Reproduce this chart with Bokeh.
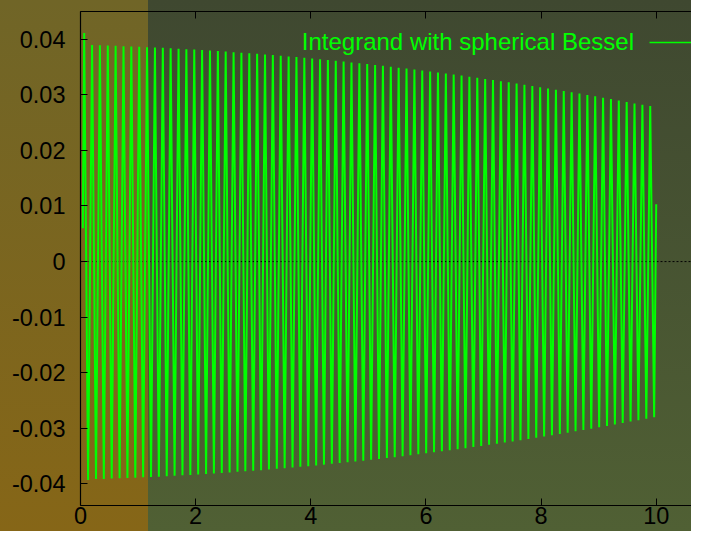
from bokeh.plotting import figure
from bokeh.models import (Range1d, LinearAxis, FixedTicker, Span, Label, Arrow)
from bokeh.embed import file_html
from bokeh.resources import INLINE

# ---- data ----
start_x, start_y = 0.040, 0.0060
end_x, end_y = 10.000, 0.0103

peak_x = [0.064, 0.201, 0.337, 0.474, 0.610, 0.747, 0.883, 1.020, 1.156, 1.293,
          1.430, 1.566, 1.703, 1.839, 1.976, 2.112, 2.249, 2.386, 2.522, 2.659,
          2.795, 2.932, 3.068, 3.205, 3.341, 3.478, 3.615, 3.751, 3.888, 4.024,
          4.161, 4.297, 4.434, 4.570, 4.707, 4.844, 4.980, 5.117, 5.253, 5.390,
          5.526, 5.663, 5.800, 5.936, 6.073, 6.209, 6.346, 6.482, 6.619, 6.755,
          6.892, 7.029, 7.165, 7.302, 7.438, 7.575, 7.711, 7.848, 7.984, 8.121,
          8.258, 8.394, 8.531, 8.667, 8.804, 8.940, 9.077, 9.214, 9.350, 9.487,
          9.623, 9.760, 9.896]
peak_y = [0.04110, 0.03894, 0.03890, 0.03885, 0.03880, 0.03875, 0.03869, 0.03863, 0.03857, 0.03851,
          0.03844, 0.03837, 0.03829, 0.03821, 0.03813, 0.03805, 0.03796, 0.03787, 0.03777, 0.03767,
          0.03757, 0.03747, 0.03736, 0.03725, 0.03714, 0.03702, 0.03690, 0.03678, 0.03665, 0.03652,
          0.03639, 0.03625, 0.03611, 0.03597, 0.03582, 0.03568, 0.03552, 0.03537, 0.03521, 0.03505,
          0.03488, 0.03472, 0.03454, 0.03437, 0.03419, 0.03401, 0.03383, 0.03364, 0.03345, 0.03326,
          0.03306, 0.03286, 0.03266, 0.03245, 0.03224, 0.03203, 0.03181, 0.03159, 0.03137, 0.03114,
          0.03091, 0.03068, 0.03045, 0.03021, 0.02997, 0.02972, 0.02947, 0.02922, 0.02897, 0.02871,
          0.02845, 0.02819, 0.02800]
trough_x = [0.132, 0.269, 0.405, 0.542, 0.679, 0.815, 0.952, 1.088, 1.225, 1.361,
            1.498, 1.634, 1.771, 1.908, 2.044, 2.181, 2.317, 2.454, 2.590, 2.727,
            2.863, 3.000, 3.137, 3.273, 3.410, 3.546, 3.683, 3.819, 3.956, 4.093,
            4.229, 4.366, 4.502, 4.639, 4.775, 4.912, 5.048, 5.185, 5.322, 5.458,
            5.595, 5.731, 5.868, 6.004, 6.141, 6.277, 6.414, 6.551, 6.687, 6.824,
            6.960, 7.097, 7.233, 7.370, 7.506, 7.643, 7.780, 7.916, 8.053, 8.189,
            8.326, 8.462, 8.599, 8.735, 8.872, 9.009, 9.145, 9.282, 9.418, 9.555,
            9.691, 9.828, 9.964]
trough_y = [-0.03930, -0.03912, -0.03908, -0.03903, -0.03898, -0.03892, -0.03886, -0.03880, -0.03874, -0.03868,
            -0.03861, -0.03853, -0.03845, -0.03837, -0.03829, -0.03821, -0.03812, -0.03802, -0.03792, -0.03782,
            -0.03772, -0.03762, -0.03751, -0.03740, -0.03728, -0.03716, -0.03704, -0.03692, -0.03679, -0.03666,
            -0.03652, -0.03638, -0.03624, -0.03610, -0.03595, -0.03580, -0.03565, -0.03549, -0.03533, -0.03517,
            -0.03500, -0.03483, -0.03466, -0.03448, -0.03430, -0.03412, -0.03394, -0.03375, -0.03356, -0.03336,
            -0.03316, -0.03296, -0.03276, -0.03255, -0.03234, -0.03212, -0.03190, -0.03168, -0.03146, -0.03123,
            -0.03100, -0.03077, -0.03053, -0.03029, -0.03005, -0.02980, -0.02955, -0.02930, -0.02904, -0.02878,
            -0.02852, -0.02826, -0.02800]

x_ticks = [0, 2, 4, 6, 8, 10]
x_tick_labels = ["0", "2", "4", "6", "8", "10"]
y_ticks = [-0.04, -0.03, -0.02, -0.01, 0, 0.01, 0.02, 0.03, 0.04]
y_tick_labels = ["-0.04", "-0.03", "-0.02", "-0.01", "0", "0.01", "0.02", "0.03", "0.04"]
series_name = "Integrand with spherical Bessel"

# assemble the polyline from the read extrema
xs = [start_x]
ys = [start_y]
for px, py, tx, ty in zip(peak_x, peak_y, trough_x, trough_y):
    xs += [px, tx]
    ys += [py, ty]
xs.append(end_x)
ys.append(end_y)

GREEN = "#00ff00"
FONT = "Liberation Sans"
FS = "23.5px"

p = figure(width=691, height=531, output_backend="svg", toolbar_location=None,
           x_range=Range1d(0, 10.613), y_range=Range1d(-0.04387, 0.04498),
           min_border_left=80, min_border_right=0, min_border_top=11, min_border_bottom=26)

p.background_fill_alpha = 0
p.border_fill_alpha = 0
p.outline_line_color = None
p.grid.visible = False
p.styles = {
    "background-image": "linear-gradient(to bottom, #706527, #866617), "
                        "linear-gradient(to bottom, #3f4830, #506034)",
    "background-size": "148px 100%, 100% 100%",
    "background-repeat": "no-repeat",
}

for ax in (p.xaxis[0], p.yaxis[0]):
    ax.axis_line_color = "black"
    ax.axis_line_width = 1.2
    ax.major_tick_in = 7
    ax.major_tick_out = 0
    ax.major_tick_line_color = "black"
    ax.minor_tick_in = 0
    ax.minor_tick_out = 0
    ax.major_label_text_font = FONT
    ax.major_label_text_font_size = FS
    ax.major_label_text_color = "black"

p.xaxis[0].ticker = FixedTicker(ticks=x_ticks)
p.xaxis[0].major_label_overrides = dict(zip(x_ticks, x_tick_labels))
p.xaxis[0].major_label_standoff = 1
p.yaxis[0].ticker = FixedTicker(ticks=y_ticks)
p.yaxis[0].major_label_overrides = dict(zip(y_ticks, y_tick_labels))
p.yaxis[0].major_label_standoff = 15

# mirrored top border with inward ticks, no labels
top = LinearAxis(ticker=FixedTicker(ticks=x_ticks), major_label_text_font_size="0px",
                 major_label_text_color=None, major_label_standoff=0,
                 major_tick_in=7, major_tick_out=0,
                 minor_tick_in=0, minor_tick_out=0, axis_line_color="black",
                 axis_line_width=1.2, major_tick_line_color="black")
p.add_layout(top, "above")

zero = Span(location=0, dimension="width", line_color="black", line_dash="2 2",
            line_width=1, level="underlay")
p.add_layout(zero)

p.line(xs, ys, line_color=GREEN, line_width=2)

legend_text = Label(x=9.614, y=0.03955, text=series_name, text_align="right",
                    text_baseline="alphabetic", text_color=GREEN,
                    text_font=FONT, text_font_size="24px")
p.add_layout(legend_text)
legend_line = Arrow(end=None, x_start=9.884, y_start=0.0394, x_end=10.631, y_end=0.0394,
                    line_color=GREEN, line_width=1.5)
p.add_layout(legend_line)

open("out.html", "w").write(file_html(p, INLINE))
